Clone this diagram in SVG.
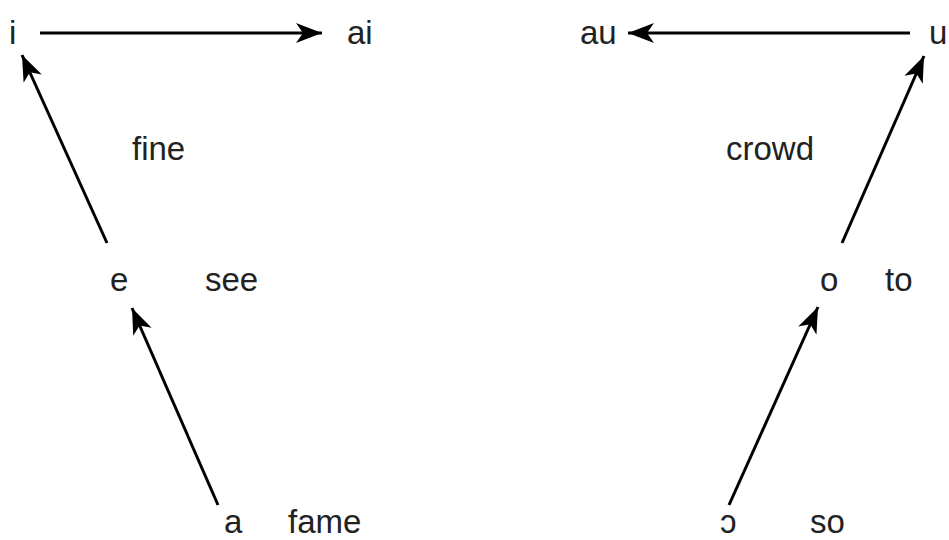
<svg xmlns="http://www.w3.org/2000/svg" width="949" height="540" viewBox="0 0 949 540">
<defs>
<style>
text{font-family:"Liberation Sans",Arial,sans-serif;font-size:33px;fill:#222}
.c{stroke:#000;stroke-width:3;fill:none;marker-end:url(#ah)}
</style>
<marker id="ah" markerUnits="userSpaceOnUse" markerWidth="26" markerHeight="22" viewBox="0 0 26 22" refX="26" refY="11" orient="auto">
<path d="M0,1 L26,11 L0,21 L7,11 Z" fill="#000"/>
</marker>
</defs>
<rect width="949" height="540" fill="#fff"/>
<g id="connectors">
<line class="c" x1="40" y1="33" x2="322" y2="33"/>
<line class="c" x1="910" y1="33" x2="628" y2="33"/>
<line class="c" x1="107" y1="243" x2="22" y2="55"/>
<line class="c" x1="218" y1="505" x2="132" y2="308"/>
<line class="c" x1="729" y1="505" x2="818" y2="307"/>
<line class="c" x1="842" y1="243" x2="924" y2="56"/>
</g>
<g id="n-i"><text x="9" y="44">i</text></g>
<g id="n-ai"><text x="347" y="44">ai</text></g>
<g id="n-au"><text x="580" y="44">au</text></g>
<g id="n-u"><text x="929" y="44">u</text></g>
<g id="n-fine"><text x="132" y="160">fine</text></g>
<g id="n-crowd"><text x="726" y="160">crowd</text></g>
<g id="n-e"><text x="110" y="291">e</text></g>
<g id="n-see"><text x="205" y="291">see</text></g>
<g id="n-o"><text x="820" y="291">o</text></g>
<g id="n-to"><text x="885" y="291">to</text></g>
<g id="n-a"><text x="224" y="533">a</text></g>
<g id="n-fame"><text x="288" y="533">fame</text></g>
<g id="n-oo"><text x="720" y="533">ɔ</text></g>
<g id="n-so"><text x="810" y="533">so</text></g>
</svg>
